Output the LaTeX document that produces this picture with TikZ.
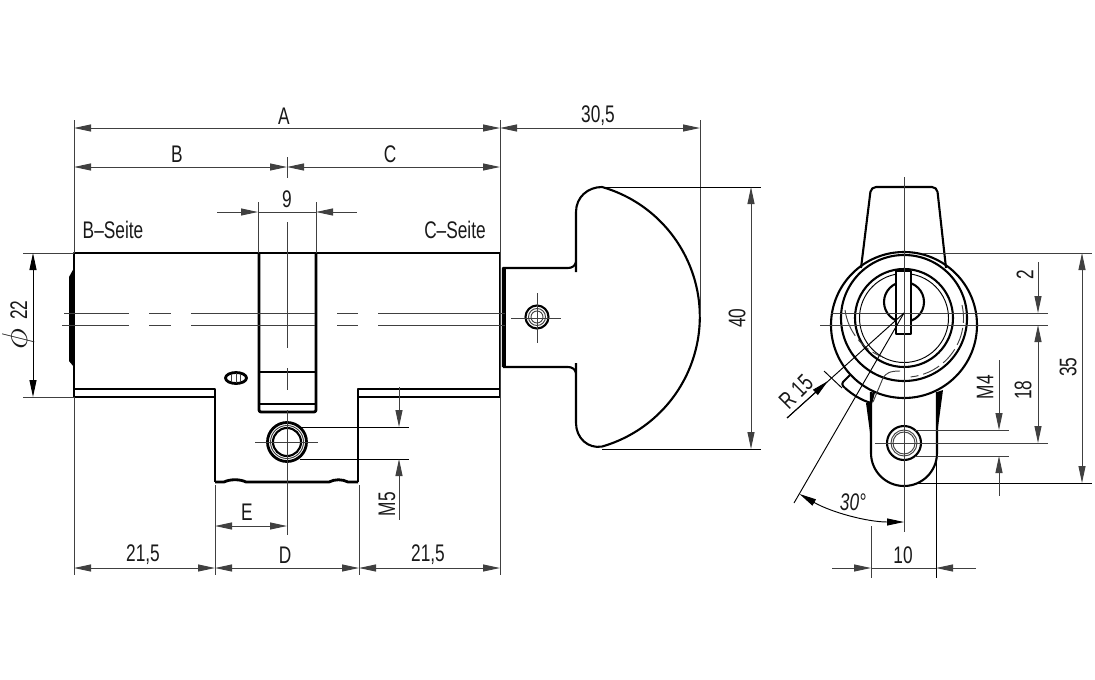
\documentclass[tikz,border=0pt]{standalone}
\usepackage{fontspec}
\usepackage{graphicx}
\setmainfont{Liberation Sans}[FakeStretch=0.72]
\usetikzlibrary{arrows.meta}
\tikzset{
  thickline/.style={line width=2.8pt,line join=round},
  midline/.style={line width=2.1pt,line join=round},
  thinline/.style={line width=0.95pt,black!75},
  dimline/.style={line width=0.95pt,black!75},
  lbl/.style={font=\fontsize{24}{24}\selectfont,inner sep=0pt,text=black!90},
}
\begin{document}
\begin{tikzpicture}[x=1pt,y=1pt,yscale=-1,>={Triangle[length=17pt,width=7pt]}]
  \useasboundingbox (0,0) rectangle (1095,680);
  % body
  \draw[thickline] (215,482) -- (215,389) -- (74,389) -- (74,253) -- (500,253) -- (500,397) -- (358,397);
  \draw[thickline] (74,389) -- (74,397) -- (215,397);
  \draw[thickline] (358,482) -- (358,389) -- (500,389);
  \draw[thickline] (215,482) -- (224,482) .. controls (230,479) and (240,479) .. (246,482) -- (329,482) .. controls (335,479) and (342,479) .. (348,482) -- (358,482);
  \fill (74,268) -- (69,277) -- (69,361) -- (74,367) -- cycle;
  \draw[thickline,rounded corners=2pt] (259,253) -- (259,412) -- (316,412) -- (316,253);
  \draw[midline] (259,372) -- (316,372);
  \draw[thickline] (259,404) -- (316,404);
  \draw[thickline] (236,378) ellipse (10.5 and 5.5);
  \draw[thinline] (231,374) -- (231,382) (236,373) -- (236,383) (240,374) -- (240,382);
  \draw[thickline] (287,442) circle (19.5);
  \draw[thinline] (287,442) circle (16.5);
  \draw[midline] (287,442) circle (14);
  % knob
  \draw[midline] (503,367) -- (503,268) -- (568,268) .. controls (572,268) and (575,266) .. (576,262);
  \draw[midline] (576,272) -- (576,212) .. controls (576,197) and (588,187) .. (602,187) arc (-74:74:135) .. controls (588,449) and (576,438) .. (576,423) -- (576,363);
  \draw[midline] (503,367) -- (568,367) .. controls (572,367) and (575,369) .. (576,373);
  \draw[thickline] (505,268) -- (505,367);
  \draw[midline] (537,317) circle (11.5);
  \draw[thinline] (537,317) circle (8.5);
  \draw[thinline] (537,317) circle (6);
  % side view
  \draw[midline,rounded corners=5pt] (861,268) -- (871,187) -- (937,187) -- (946,268);
  \draw[midline] (871,392) -- (871,453) arc (180:0:33) -- (937,392);
  \fill (866,403) -- (870,403) -- (871,440) -- cycle;
  \fill (937,392) -- (943,390) -- (937,435) -- cycle;
  \draw[midline,rounded corners=3pt] (850,375) -- (841,384) -- (845,388);
  \draw[midline] (845,388) .. controls (853,395) and (861,400) .. (871,403) -- (874,392);
  \draw[midline] (904,325) circle (73);
  \draw[midline] (904,318) circle (63);
  \draw[midline] (904,318) circle (49);
  \draw[thinline,black] (904,318) circle (44.5);
  \draw[midline] (904,302) circle (20);
  \fill[white] (896,271) rectangle (911,334);
  \draw[midline] (896,271) rectangle (911,334);
  \draw[thinline,dash pattern=on 28pt off 5pt on 14pt off 5pt] (845,310) arc (172:112:59);
  \draw[thinline,dash pattern=on 18pt off 5pt] (962,305) arc (-13:84:59);
  \draw[thinline] (900,371) .. controls (890,371) and (886,373) .. (883,378) -- (873,402);
  \draw[midline] (871,403) -- (874,391);
  \draw[midline] (904,443) circle (17);
  \draw[thinline] (904,443) circle (13);
  \draw[thinline] (904,443) circle (11);
  % centre lines
  \draw[thinline] (64,313) -- (129,313) (149,313) -- (171,313) (191,313) -- (315,313) (337,313) -- (358,313) (378,313) -- (505,313);
  \draw[thinline] (62,325) -- (129,325) (149,325) -- (171,325) (191,325) -- (315,325) (337,325) -- (358,325) (378,325) -- (505,325);
  \draw[thinline] (287,157) -- (287,178) (287,222) -- (287,348) (287,368) -- (287,390) (287,410) -- (287,535);
  \draw[thinline] (255,442) -- (318,442);
  \draw[thinline] (511,318) -- (561,318) (537,293) -- (537,343);
  \draw[thinline] (831,313) -- (1048,313) (820,325) -- (1048,325);
  \draw[thinline] (904,177) -- (904,532);
  \draw[thinline] (875,443) -- (1048,443);
  % extension lines
  \draw[thinline] (74,120) -- (74,253) (74,397) -- (74,575);
  \draw[thinline] (500,120) -- (500,575);
  \draw[thinline] (700,120) -- (700,317);
  \draw[thinline] (258,202) -- (258,253) (316,202) -- (316,253);
  \draw[thinline] (23,253) -- (74,253) (23,397) -- (74,397);
  \draw[thinline] (215,485) -- (215,575) (359,485) -- (359,575);
  \draw[thinline,black] (300,427) -- (409,427) (300,459) -- (409,459);
  \draw[thinline,black] (602,187) -- (761,187) (602,449) -- (761,449);
  \draw[thinline] (923,253) -- (1092,253);
  \draw[thinline,black] (915,483) -- (1092,483);
  \draw[thinline] (915,430) -- (1009,430) (915,456) -- (1009,456);
  \draw[thinline] (871,526) -- (871,578);
  \draw[thinline,black] (936,450) -- (936,578);
  % dimensions
  \draw[dimline,<->] (74,128) to (500,128);
  \draw[dimline,<->] (500,128) to (700,128);
  \draw[dimline,<->] (74,167) to (287,167);
  \draw[dimline,<->] (287,167) to (500,167);
  \draw[dimline,<-] (258,212) to (217,212);
  \draw[dimline,<-] (316,212) to (357,212);
  \draw[dimline] (258,212) to (316,212);
  \draw[dimline,black,<->] (33,253) to (33,397);
  \draw[dimline,<->] (74,568) to (215,568);
  \draw[dimline,<->] (215,568) to (359,568);
  \draw[dimline,<->] (359,568) to (500,568);
  \draw[dimline,<->] (215,526) to (287,526);
  \draw[dimline,<-] (399,427) to (399,387);
  \draw[dimline,<-] (399,459) to (399,520);
  \draw[dimline,<->] (751,187) to (751,449);
  \draw[dimline,<-] (1038,313) to (1038,262);
  \draw[dimline,<->] (1038,325) to (1038,443);
  \draw[dimline,<->] (1082,253) to (1082,483);
  \draw[dimline,<-] (999,430) to (999,360);
  \draw[dimline,<-] (999,456) to (999,496);
  \draw[dimline,<-] (871,568) to (832,568);
  \draw[dimline,<-] (936,568) to (976,568);
  \draw[dimline] (871,568) to (936,568);
  % radius and angle
  \draw[thinline,black] (904,313) -- (787,418);
  \draw[thinline,black,->] (787,418) -- (828,381);
  \draw[thinline,black] (824,371) -- (842,388);
  \draw[thinline,black] (904,313) -- (794,503);
  \draw[thinline,black,<->] (904,522) arc (90:120:209);
  % labels
  \node[lbl] (A) at (284,116) {A};
  \node[lbl] (B) at (177,154) {B};
  \node[lbl] (C) at (390,154) {C};
  \node[lbl] (D) at (285,555) {D};
  \node[lbl] (E) at (247,512) {E};
  \node[lbl] (w305) at (598,116) {30,5};
  \node[lbl] (w9) at (287,199) {9};
  \node[lbl] (bside) at (113,230) {B--Seite};
  \node[lbl] (cside) at (455,230) {C--Seite};
  \node[lbl,rotate=90] (dia) at (18,325) {\scalebox{1.45}{$\phi$}\, 22};
  \node[lbl] (w215a) at (143,555) {21,5};
  \node[lbl] (w215b) at (428,555) {21,5};
  \node[lbl,rotate=90] (m5) at (387,504) {M5};
  \node[lbl,rotate=90] (w40) at (737,318) {40};
  \node[lbl,rotate=90] (w2) at (1025,275) {2};
  \node[lbl,rotate=90] (w18) at (1023,390) {18};
  \node[lbl,rotate=90] (w35) at (1068,367) {35};
  \node[lbl,rotate=90] (m4) at (985,387) {M4};
  \node[lbl,rotate=45] (r15) at (796,392) {R 15};
  \node[lbl] (w30) at (853,502) {\itshape 30°};
  \node[lbl] (w10) at (903,555) {10};
\end{tikzpicture}
\end{document}
